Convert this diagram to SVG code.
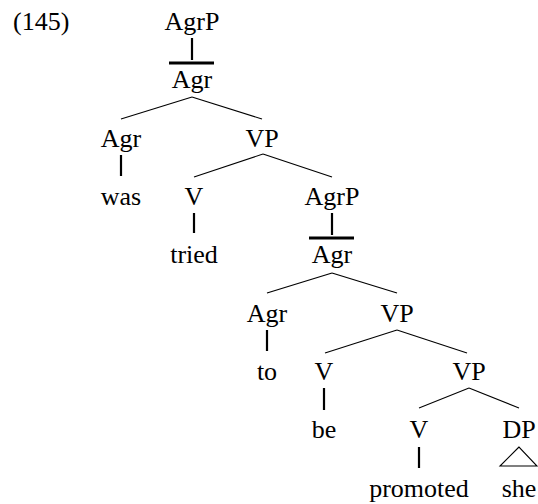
<svg xmlns="http://www.w3.org/2000/svg" width="538" height="504" viewBox="0 0 538 504">
<rect width="538" height="504" fill="#fff"/>
<g id="connectors" stroke="#000" fill="none">
<g stroke-width="2.2">
<line x1="192" y1="38" x2="192" y2="60"/>
<line x1="121" y1="155" x2="121" y2="176"/>
<line x1="194" y1="213" x2="194" y2="233"/>
<line x1="332" y1="213" x2="332" y2="235"/>
<line x1="267" y1="330" x2="267" y2="351"/>
<line x1="324" y1="388" x2="324" y2="410"/>
<line x1="419" y1="447" x2="419" y2="468"/>
</g>
<g stroke-width="3">
<line x1="169" y1="63" x2="214" y2="63"/>
<line x1="309" y1="238" x2="354" y2="238"/>
</g>
<g stroke-width="1.1">
<line x1="192" y1="97" x2="121" y2="119"/>
<line x1="192" y1="97" x2="262" y2="119"/>
<line x1="263" y1="154" x2="194" y2="177"/>
<line x1="263" y1="154" x2="332" y2="177"/>
<line x1="332" y1="273" x2="267" y2="293"/>
<line x1="332" y1="273" x2="397" y2="293"/>
<line x1="397" y1="330" x2="325" y2="353"/>
<line x1="397" y1="330" x2="467" y2="353"/>
<line x1="469" y1="388" x2="419" y2="408"/>
<line x1="469" y1="388" x2="519" y2="408"/>
<polygon points="519,447 500,466 537,466"/>
</g>
</g>
<g font-size="26" text-anchor="middle">
<text x="13" y="30" text-anchor="start" font-family="Liberation Serif" style="font-family:'Liberation Serif',serif;text-anchor:start">(145)</text>
<g id="n-agrp1"><text x="192" y="30" font-family="Liberation Serif" style="font-family:'Liberation Serif',serif">AgrP</text></g>
<g id="n-agrbar1"><text x="192" y="88" font-family="Liberation Serif" style="font-family:'Liberation Serif',serif">Agr</text></g>
<g id="n-agr1"><text x="121" y="147" font-family="Liberation Serif" style="font-family:'Liberation Serif',serif">Agr</text></g>
<g id="n-vp1"><text x="262" y="147" font-family="Liberation Serif" style="font-family:'Liberation Serif',serif">VP</text></g>
<g id="n-was"><text x="121" y="205" font-family="Liberation Serif" style="font-family:'Liberation Serif',serif">was</text></g>
<g id="n-v1"><text x="194" y="205" font-family="Liberation Serif" style="font-family:'Liberation Serif',serif">V</text></g>
<g id="n-agrp2"><text x="332" y="205" font-family="Liberation Serif" style="font-family:'Liberation Serif',serif">AgrP</text></g>
<g id="n-tried"><text x="194" y="263" font-family="Liberation Serif" style="font-family:'Liberation Serif',serif">tried</text></g>
<g id="n-agrbar2"><text x="332" y="263" font-family="Liberation Serif" style="font-family:'Liberation Serif',serif">Agr</text></g>
<g id="n-agr2"><text x="267" y="322" font-family="Liberation Serif" style="font-family:'Liberation Serif',serif">Agr</text></g>
<g id="n-vp2"><text x="397" y="322" font-family="Liberation Serif" style="font-family:'Liberation Serif',serif">VP</text></g>
<g id="n-to"><text x="267" y="380" font-family="Liberation Serif" style="font-family:'Liberation Serif',serif">to</text></g>
<g id="n-v2"><text x="324" y="380" font-family="Liberation Serif" style="font-family:'Liberation Serif',serif">V</text></g>
<g id="n-vp3"><text x="469" y="380" font-family="Liberation Serif" style="font-family:'Liberation Serif',serif">VP</text></g>
<g id="n-be"><text x="324" y="438" font-family="Liberation Serif" style="font-family:'Liberation Serif',serif">be</text></g>
<g id="n-v3"><text x="419" y="438" font-family="Liberation Serif" style="font-family:'Liberation Serif',serif">V</text></g>
<g id="n-dp"><text x="519" y="438" font-family="Liberation Serif" style="font-family:'Liberation Serif',serif">DP</text></g>
<g id="n-promoted"><text x="419" y="497" font-family="Liberation Serif" style="font-family:'Liberation Serif',serif">promoted</text></g>
<g id="n-she"><text x="519" y="497" font-family="Liberation Serif" style="font-family:'Liberation Serif',serif">she</text></g>
</g>
</svg>
